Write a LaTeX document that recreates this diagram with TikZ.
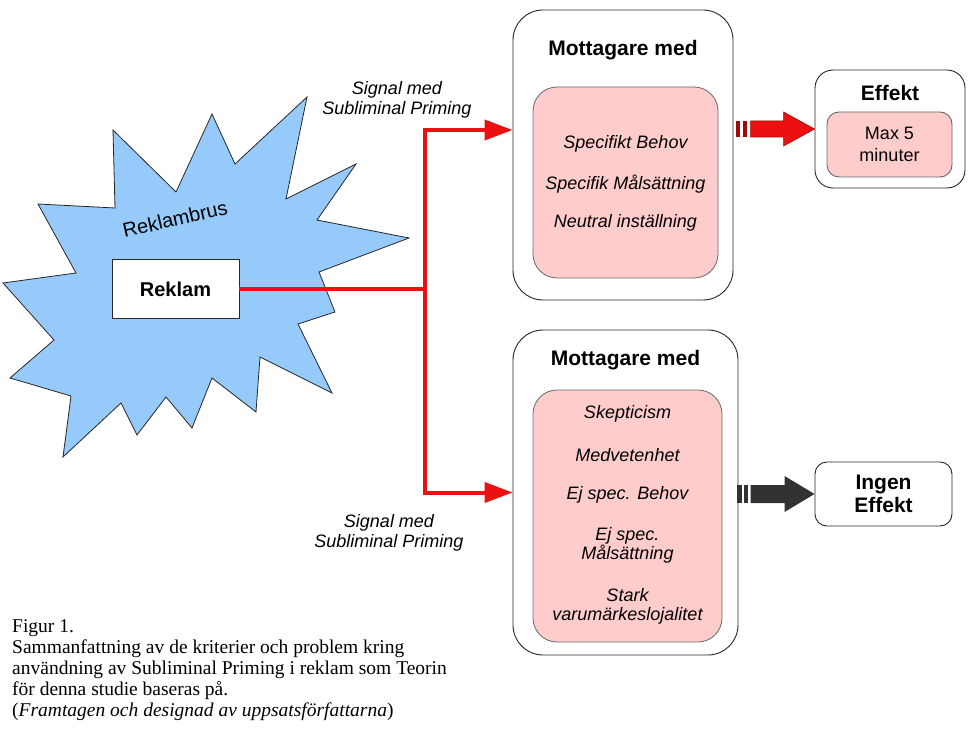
\documentclass[tikz,border=0pt]{standalone}
\usepackage{fontspec}
\setmainfont{Liberation Sans}
\newfontfamily\captionserif{Liberation Serif}
\usetikzlibrary{arrows.meta,positioning}

\definecolor{burstblue}{RGB}{150,202,250}
\definecolor{boxpink}{RGB}{255,204,204}
\definecolor{signalred}{RGB}{236,16,16}
\definecolor{darkred}{RGB}{160,10,10}
\definecolor{arrowgrey}{RGB}{50,50,50}

\tikzset{
	outerbox/.style={draw=black!85,line width=0.9pt,fill=white,rounded corners=30pt},
	innerbox/.style={draw=black!60,line width=0.8pt,fill=boxpink,rounded corners=24pt},
	smallbox/.style={draw=black!85,line width=0.9pt,rounded corners=12pt},
	signal/.style={draw=signalred,line width=4pt},
	boxtitle/.style={font=\fontsize{21}{24}\selectfont\bfseries},
	itemtext/.style={font=\fontsize{18}{19}\selectfont\itshape,align=center},
	signaltext/.style={font=\fontsize{18}{20}\selectfont\itshape,align=center},
}

\begin{document}
\begin{tikzpicture}[x=1pt,y=-1pt]
	\useasboundingbox[fill=white] (0,0) rectangle (978,730);
	% reklambrus
	\draw[fill=burstblue,draw=black!85,line width=0.8pt] (3,283) -- (54,340) -- (10,378) -- (71,396) -- (63,457) -- (121,403) -- (137,435) -- (166,397) -- (192,428) -- (212,378) -- (256,412) -- (260,357) -- (332,393) -- (298,324) -- (335,312) -- (319,272) -- (409,238) -- (317,220) -- (356,164) -- (286,199) -- (307,97) -- (235,164) -- (212,114) -- (176,192) -- (113,130) -- (115,208) -- (38,204) -- (76,273) -- cycle;
	\node[rotate=13,inner sep=0pt,font=\fontsize{20}{24}\selectfont] (brus) at (175,219) {Reklambrus};
	\node[draw=black!85,line width=0.8pt,fill=white,minimum width=127pt,minimum height=59pt,font=\fontsize{20}{24}\selectfont\bfseries] (reklam) at (175.5,289) {Reklam};
	% mottagare
	\node[outerbox,minimum width=220pt,minimum height=290pt] (mtop) at (623,155) {};
	\node[boxtitle] (mtoptitle) at (623,50) {Mottagare med};
	\node[innerbox,minimum width=185pt,minimum height=191pt] (ptop) at (625.5,182.5) {};
	\node[itemtext] (behov) at (625.5,144) {Specifikt Behov};
	\node[itemtext] (mal) at (625.5,184) {Specifik Målsättning};
	\node[itemtext] (neutral) at (625.5,223) {Neutral inställning};
	\node[outerbox,minimum width=225pt,minimum height=325pt] (mbot) at (625.5,492.5) {};
	\node[boxtitle] (mbottitle) at (625.5,360) {Mottagare med};
	\node[innerbox,minimum width=189pt,minimum height=252pt] (pbot) at (627.5,516) {};
	\node[itemtext] (skep) at (627.5,414) {Skepticism};
	\node[itemtext] (medv) at (627.5,455) {Medvetenhet};
	\node[itemtext] (ejbehov) at (627.5,495) {Ej spec. Behov};
	\node[itemtext] (ejmal) at (627.5,545) {Ej spec.\\Målsättning};
	\node[itemtext] (stark) at (627.5,606) {Stark\\varumärkeslojalitet};
	% effekt
	\node[smallbox,fill=white,rounded corners=18pt,minimum width=150pt,minimum height=118pt] (effekt) at (890,129) {};
	\node[boxtitle] (effekttitle) at (890,93) {Effekt};
	\node[smallbox,draw=black!60,fill=boxpink,minimum width=125pt,minimum height=65pt,align=center,font=\fontsize{18}{22}\selectfont] (max) at (889.5,144.5) {Max 5\\minuter};
	\node[smallbox,fill=white,minimum width=137pt,minimum height=64pt,align=center,font=\fontsize{21}{23}\selectfont\bfseries] (ingen) at (883.5,494) {Ingen\\Effekt};
	% signal
	\coordinate (split) at (425,289);
	\draw[signal] (reklam.east) -- (split);
	\draw[signal,-{Triangle[length=28pt,width=20pt]}] (split) |- ([yshift=25pt]mtop.west);
	\draw[signal,-{Triangle[length=28pt,width=20pt]}] (split) |- (mbot.west);
	\node[signaltext] (sigtop) at (397,100) {Signal med\\Subliminal Priming};
	\node[signaltext] (sigbot) at (389,533) {Signal med\\Subliminal Priming};
	% block arrows
	\fill[darkred] (effekt.west) ++(-79,-8) rectangle ++(4,16);
	\fill[darkred] (effekt.west) ++(-72,-8) rectangle ++(4,16);
	\draw[fill=signalred,draw=darkred,line width=0.6pt] (effekt.west) -- ++(-31,-17) -- ++(0,9) -- ++(-33,0) -- ++(0,16) -- ++(33,0) -- ++(0,9) -- cycle;
	\fill[arrowgrey] (ingen.west) ++(-78,-9) rectangle ++(5,18);
	\fill[arrowgrey] (ingen.west) ++(-71,-9) rectangle ++(4,18);
	\fill[arrowgrey] (ingen.west) -- ++(-30,-18) -- ++(0,9) -- ++(-34,0) -- ++(0,18) -- ++(34,0) -- ++(0,9) -- cycle;
	% caption
	\node[anchor=north west,inner sep=0pt,align=left,font=\captionserif\fontsize{19.5}{21}\selectfont] (caption) at (12,619) {Figur 1.\\Sammanfattning av de kriterier och problem kring\\användning av Subliminal Priming i reklam som Teorin\\för denna studie baseras på.\\(\textit{Framtagen och designad av uppsatsförfattarna})};
\end{tikzpicture}
\end{document}
